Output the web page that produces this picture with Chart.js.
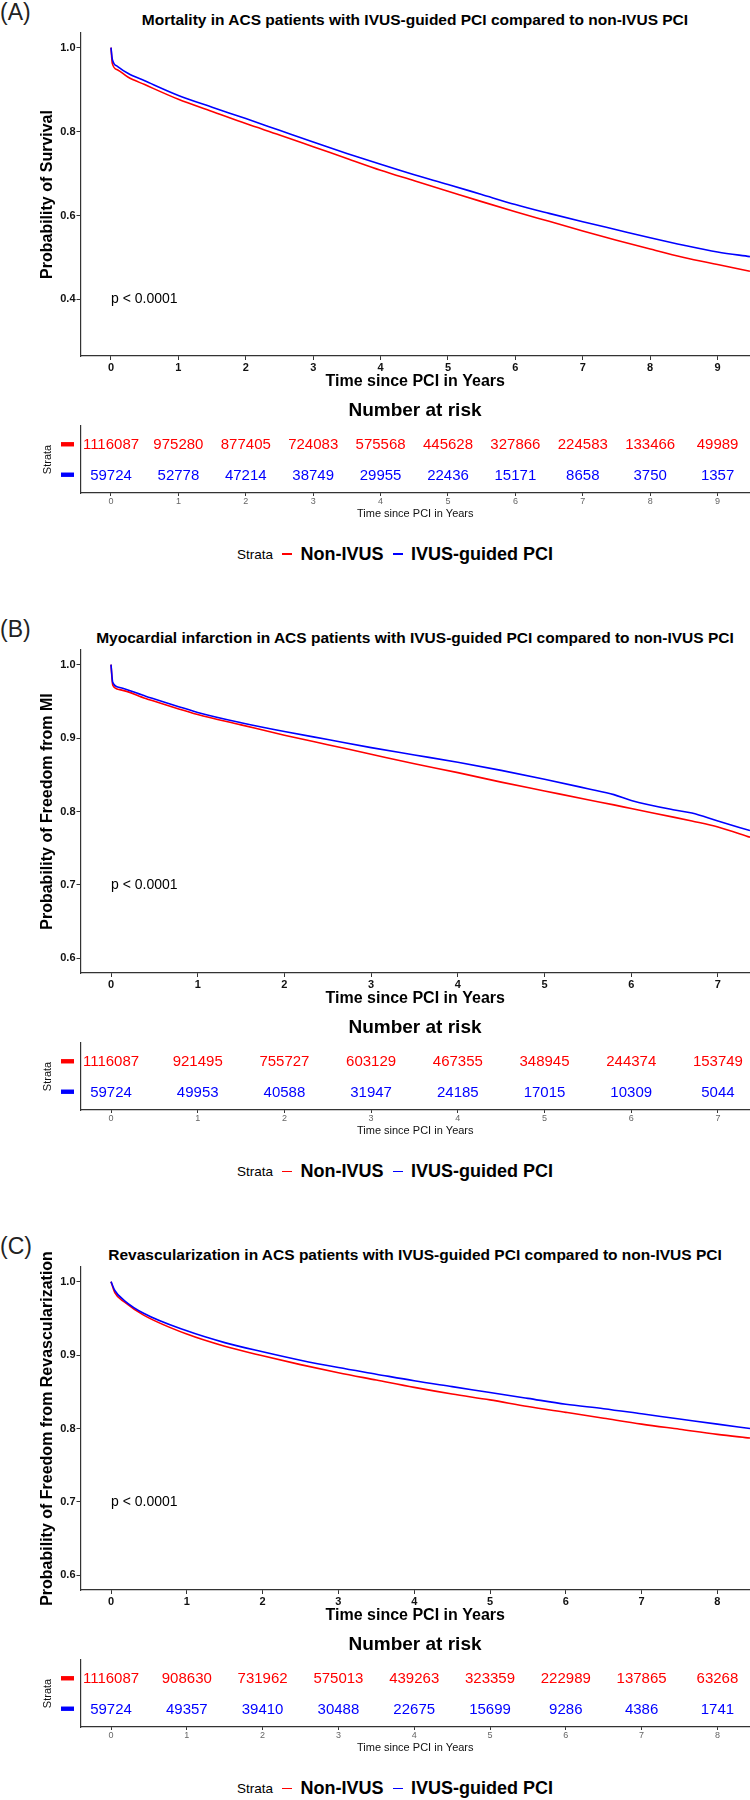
<!DOCTYPE html>
<html>
<head>
<meta charset="utf-8">
<script src="https://cdn.jsdelivr.net/npm/chart.js@4.4.1/dist/chart.umd.min.js"></script>
<style>
  body { margin: 0; background: #fff; }
  #page { position: relative; width: 750px; height: 1800px; overflow: hidden; font-family: "Liberation Sans", Arial, sans-serif; color: #000; }
  canvas { position: absolute; left: 0; }
  .tag { position: absolute; left: 0; font-size: 23px; line-height: 1; color: #222; }
  .title { position: absolute; left: 80px; width: 670px; text-align: center; font-weight: bold; font-size: 15.5px; line-height: 1; white-space: nowrap; }
  .risk-title { position: absolute; left: 80px; width: 670px; text-align: center; font-weight: bold; font-size: 19px; line-height: 1; }
  .legend { position: absolute; left: 237px; height: 22px; display: flex; align-items: center; white-space: nowrap; }
  .legend .lab { font-size: 13.5px; margin-right: 9px; }
  .legend .key { display: inline-block; width: 10px; height: 1.6px; margin-right: 8.5px; }
  .legend .name { font-size: 18px; font-weight: bold; margin-right: 9px; }
</style>
</head>
<body>
<div id="page"></div>
<script>
// ---- data ----
const panelTags = ["(A)", "(B)", "(C)"];
const panelTitles = [
  "Mortality in ACS patients with IVUS-guided PCI compared to non-IVUS PCI",
  "Myocardial infarction in ACS patients with IVUS-guided PCI compared to non-IVUS PCI",
  "Revascularization in ACS patients with IVUS-guided PCI compared to non-IVUS PCI"
];
const yTitles = ["Probability of Survival", "Probability of Freedom from MI", "Probability of Freedom from Revascularization"];
const seriesNames = ["Non-IVUS", "IVUS-guided PCI"];
const seriesColors = ["#FF0000", "#0000FF"];
const pvalText = "p < 0.0001";

// (A) mortality
const timesA = [0, 0.02, 0.1, 0.25, 0.5, 1, 1.5, 2, 2.5, 3, 3.5, 4, 4.5, 5, 5.5, 6, 6.5, 7, 7.5, 8, 8.5, 9, 9.48];
const nonIvusA = [1.0, 0.962, 0.947, 0.930, 0.912, 0.877, 0.848, 0.819, 0.792, 0.764, 0.736, 0.708, 0.683, 0.658, 0.633, 0.609, 0.586, 0.563, 0.541, 0.520, 0.500, 0.483, 0.467];
const ivusA = [1.0, 0.972, 0.955, 0.939, 0.921, 0.886, 0.858, 0.831, 0.803, 0.775, 0.748, 0.722, 0.697, 0.674, 0.650, 0.626, 0.605, 0.585, 0.566, 0.547, 0.529, 0.513, 0.502];
const yTicksA = [0.4, 0.6, 0.8, 1.0];
const riskYearsA = [0, 1, 2, 3, 4, 5, 6, 7, 8, 9];
const riskNonA = [1116087, 975280, 877405, 724083, 575568, 445628, 327866, 224583, 133466, 49989];
const riskIvusA = [59724, 52778, 47214, 38749, 29955, 22436, 15171, 8658, 3750, 1357];

// (B) myocardial infarction
const timesB = [0, 0.02, 0.1, 0.4, 1, 1.5, 2, 2.5, 3, 3.5, 4, 4.5, 5, 5.5, 5.8, 6, 6.5, 6.7, 7, 7.37];
const nonIvusB = [1.0, 0.972, 0.966, 0.954, 0.932, 0.918, 0.904, 0.891, 0.878, 0.865, 0.853, 0.840, 0.828, 0.816, 0.809, 0.804, 0.792, 0.787, 0.779, 0.765];
const ivusB = [1.0, 0.976, 0.969, 0.957, 0.935, 0.921, 0.909, 0.898, 0.887, 0.877, 0.867, 0.856, 0.844, 0.831, 0.823, 0.815, 0.802, 0.798, 0.787, 0.774];
const yTicksB = [0.6, 0.7, 0.8, 0.9, 1.0];
const riskYearsB = [0, 1, 2, 3, 4, 5, 6, 7];
const riskNonB = [1116087, 921495, 755727, 603129, 467355, 348945, 244374, 153749];
const riskIvusB = [59724, 49953, 40588, 31947, 24185, 17015, 10309, 5044];

// (C) revascularization
const timesC = [0, 0.05, 0.18, 0.43, 1, 1.5, 2, 2.5, 3, 3.5, 4, 4.5, 5, 5.5, 6, 6.5, 7, 7.5, 8, 8.43];
const nonIvusC = [1.0, 0.985, 0.972, 0.9545, 0.9286, 0.912, 0.899, 0.887, 0.876, 0.866, 0.856, 0.847, 0.839, 0.830, 0.822, 0.814, 0.806, 0.799, 0.792, 0.787];
const ivusC = [1.0, 0.988, 0.974, 0.957, 0.933, 0.917, 0.9045, 0.893, 0.883, 0.874, 0.865, 0.857, 0.849, 0.841, 0.833, 0.827, 0.820, 0.813, 0.806, 0.800];
const yTicksC = [0.6, 0.7, 0.8, 0.9, 1.0];
const riskYearsC = [0, 1, 2, 3, 4, 5, 6, 7, 8];
const riskNonC = [1116087, 908630, 731962, 575013, 439263, 323359, 222989, 137865, 63268];
const riskIvusC = [59724, 49357, 39410, 30488, 22675, 15699, 9286, 4386, 1741];

// ---- layout ----
const FONT = '"Liberation Sans", Arial, sans-serif';
const panelTop = [0, 617.3, 1234.3];
const panels = [
  { times: timesA, non: nonIvusA, ivus: ivusA, yTicks: yTicksA, yMin: 0.265, yMax: 1.035, xMin: -0.4525, xMax: 9.481, pvalY: 0.4,
    years: riskYearsA, riskNon: riskNonA, riskIvus: riskIvusA },
  { times: timesB, non: nonIvusB, ivus: ivusB, yTicks: yTicksB, yMin: 0.58, yMax: 1.02, xMin: -0.3518, xMax: 7.370, pvalY: 0.7,
    years: riskYearsB, riskNon: riskNonB, riskIvus: riskIvusB },
  { times: timesC, non: nonIvusC, ivus: ivusC, yTicks: yTicksC, yMin: 0.58, yMax: 1.02, xMin: -0.4024, xMax: 8.430, pvalY: 0.7,
    years: riskYearsC, riskNon: riskNonC, riskIvus: riskIvusC }
];

const page = document.getElementById("page");

function addDiv(cls, text, top) {
  let d = document.createElement("div");
  d.className = cls;
  d.textContent = text;
  d.style.top = top + "px";
  page.appendChild(d);
  return d;
}

function addCanvas(top, w, h) {
  let c = document.createElement("canvas");
  c.width = w; c.height = h;
  c.style.top = top + "px";
  c.style.width = w + "px"; c.style.height = h + "px";
  page.appendChild(c);
  return c;
}

// p-value text placed with the chart's own scales
const pvalPlugin = {
  id: "pval",
  afterDatasetsDraw(chart, args, opts) {
    const { ctx, scales } = chart;
    ctx.save();
    ctx.font = "14px " + FONT;
    ctx.fillStyle = "#000";
    ctx.textAlign = "left";
    ctx.textBaseline = "middle";
    ctx.fillText(opts.text, scales.x.getPixelForValue(opts.x), scales.y.getPixelForValue(opts.y));
    ctx.restore();
  }
};

// numbers at risk drawn at each point, plus the coloured strata keys
const riskPlugin = {
  id: "risk",
  afterDatasetsDraw(chart) {
    const { ctx, scales, chartArea } = chart;
    ctx.save();
    ctx.font = "15px " + FONT;
    ctx.textAlign = "center";
    ctx.textBaseline = "middle";
    chart.data.datasets.forEach((ds, i) => {
      const meta = chart.getDatasetMeta(i);
      ctx.fillStyle = ds.textColor;
      meta.data.forEach((pt, j) => {
        ctx.fillText(String(ds.data[j].n), pt.x, pt.y + 1);
      });
      const yy = scales.y.getPixelForValue(ds.data[0].y);
      ctx.fillRect(chartArea.left - 19.5, yy - 2.2, 13, 4.4);
    });
    ctx.restore();
  }
};

function axisCommon() {
  return {
    border: { display: true, color: "#333", width: 1.2 },
    grid: { display: true, drawOnChartArea: false, drawTicks: true, tickLength: 4, color: "#333", lineWidth: 1 }
  };
}

panels.forEach((p, k) => {
  const o = panelTop[k];

  addDiv("tag", panelTags[k], o + 1);
  addDiv("title", panelTitles[k], o + 20 - 7.6);

  // survival curves
  const c1 = addCanvas(o, 750, 400);
  new Chart(c1.getContext("2d"), {
    type: "line",
    data: {
      datasets: [
        { label: seriesNames[1], data: p.times.map((t, i) => ({ x: t, y: p.ivus[i] })), borderColor: seriesColors[1], order: 0 },
        { label: seriesNames[0], data: p.times.map((t, i) => ({ x: t, y: p.non[i] })), borderColor: seriesColors[0], order: 1 }
      ]
    },
    options: {
      responsive: false,
      animation: false,
      layout: { padding: { top: 33, right: 0, left: 0, bottom: 0 } },
      elements: {
        point: { radius: 0 },
        line: { borderWidth: 1.6, cubicInterpolationMode: "monotone", fill: false }
      },
      plugins: {
        legend: { display: false },
        tooltip: { enabled: false },
        pval: { text: pvalText, x: 0, y: p.pvalY }
      },
      scales: {
        x: Object.assign(axisCommon(), {
          type: "linear",
          min: p.xMin, max: p.xMax,
          afterBuildTicks: s => { s.ticks = p.years.map(v => ({ value: v })); },
          afterFit: s => { s.height = 44; },
          ticks: { font: { family: FONT, size: 11, weight: "bold" }, color: "#111", padding: 1, maxRotation: 0, autoSkip: false },
          title: { display: true, text: "Time since PCI in Years", color: "#000",
                   font: { family: FONT, size: 16, weight: "bold" }, padding: { top: 0, bottom: 8.4 } }
        }),
        y: Object.assign(axisCommon(), {
          type: "linear",
          min: p.yMin, max: p.yMax,
          afterBuildTicks: s => { s.ticks = p.yTicks.map(v => ({ value: v })); },
          afterFit: s => { s.width = 80.5; },
          ticks: { font: { family: FONT, size: 11, weight: "bold" }, color: "#111", padding: 1,
                   callback: v => Number(v).toFixed(1) },
          title: { display: true, text: yTitles[k], color: "#000",
                   font: { family: FONT, size: 16, weight: "bold" }, padding: { top: 38.4, bottom: 0 } }
        })
      }
    },
    plugins: [pvalPlugin]
  });

  // number at risk table
  addDiv("risk-title", "Number at risk", o + 409 - 9.3);
  const c2 = addCanvas(o + 400, 750, 125);
  new Chart(c2.getContext("2d"), {
    type: "scatter",
    data: {
      datasets: [
        { label: seriesNames[0], textColor: seriesColors[0], data: p.years.map((t, i) => ({ x: t, y: 2, n: p.riskNon[i] })) },
        { label: seriesNames[1], textColor: seriesColors[1], data: p.years.map((t, i) => ({ x: t, y: 1, n: p.riskIvus[i] })) }
      ]
    },
    options: {
      responsive: false,
      animation: false,
      layout: { padding: { top: 26, right: 0, left: 0, bottom: 0 } },
      elements: { point: { radius: 0, hoverRadius: 0 } },
      plugins: { legend: { display: false }, tooltip: { enabled: false } },
      scales: {
        x: Object.assign(axisCommon(), {
          type: "linear",
          min: p.xMin, max: p.xMax,
          afterBuildTicks: s => { s.ticks = p.years.map(v => ({ value: v })); },
          afterFit: s => { s.height = 32; },
          grid: { display: true, drawOnChartArea: false, drawTicks: true, tickLength: 3, color: "#333", lineWidth: 1 },
          ticks: { font: { family: FONT, size: 9 }, color: "#666", padding: 0, maxRotation: 0, autoSkip: false },
          title: { display: true, text: "Time since PCI in Years", color: "#111",
                   font: { family: FONT, size: 11 }, padding: { top: 0, bottom: 4.4 } }
        }),
        y: {
          type: "linear",
          min: 0.4, max: 2.6,
          afterFit: s => { s.width = 80.5; },
          border: { display: true, color: "#333", width: 1.2 },
          grid: { display: false },
          ticks: { display: false },
          title: { display: true, text: "Strata", color: "#111",
                   font: { family: FONT, size: 11 }, padding: { top: 41.4, bottom: 0 } }
        }
      }
    },
    plugins: [riskPlugin]
  });

  // legend
  const lg = document.createElement("div");
  lg.className = "legend";
  lg.style.top = (o + 554 - 11) + "px";
  let html = '<span class="lab">Strata</span>';
  seriesNames.forEach((nm, i) => {
    html += '<span class="key" style="background:' + seriesColors[i] + '"></span><span class="name">' + nm + '</span>';
  });
  lg.innerHTML = html;
  page.appendChild(lg);
});
</script>
</body>
</html>
